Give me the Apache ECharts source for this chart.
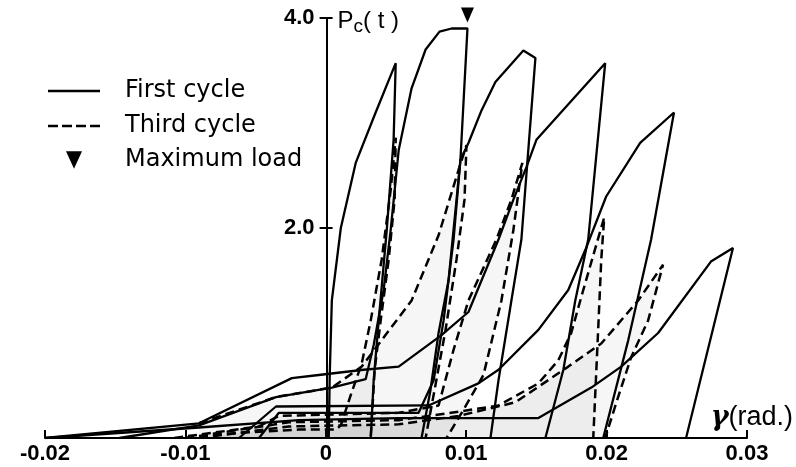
<!DOCTYPE html>
<html>
<head>
<meta charset="utf-8">
<script src="https://cdn.jsdelivr.net/npm/echarts@6/dist/echarts.min.js"></script>
<style>html,body{margin:0;padding:0;background:#fff}#c{width:796px;height:467px}</style>
</head>
<body>
<div id="c"></div>
<script>
// ---- data: [gamma (rad), Pc (t)] ----
// first cycles (solid)
var first1 = [[0.00021,0],[0.00028,0.6],[0.00043,1.31],[0.00107,2.0],[0.00213,2.62],[0.00355,3.10],[0.00498,3.57],[0.00483,2.84],[0.00434,1.98],[0.00377,1.12],[0.00341,0.55],[0.0032,0]];
var first2 = [[-0.0147,0],[-0.00903,0.12],[-0.00355,0.39],[0.00043,0.48],[0.00284,0.56],[0.00341,0.886],[0.00412,1.41],[0.00462,1.98],[0.00519,2.74],[0.00611,3.33],[0.00711,3.70],[0.0081,3.87],[0.00896,3.90],[0.01009,3.90],[0.00959,2.65],[0.00874,1.50],[0.00803,1.0],[0.00746,0.46],[0.00682,0]];
var first3 = [[-0.00476,0],[-0.00334,0.24],[0.00661,0.24],[0.00768,0.55],[0.00839,1.12],[0.0091,1.89],[0.00959,2.65],[0.01016,2.81],[0.01109,3.12],[0.01208,3.39],[0.01407,3.69],[0.01493,3.62],[0.01393,1.89],[0.01322,1.31],[0.0123,0.55],[0.01173,0]];
var first4 = [[-0.02,0],[-0.00903,0.14],[-0.00242,0.57],[-0.0005,0.60],[0.0027,0.65],[0.00519,0.68],[0.00824,0.98],[0.01016,1.2],[0.0123,1.89],[0.01336,2.27],[0.01429,2.58],[0.015,2.84],[0.0199,3.57],[0.01869,1.89],[0.01777,1.31],[0.01692,0.65],[0.01564,0]];
var first5 = [[-0.00618,0],[-0.00355,0.30],[0.00732,0.31],[0.01087,0.52],[0.0123,0.65],[0.01514,1.03],[0.01727,1.41],[0.01848,1.79],[0.01997,2.30],[0.02239,2.81],[0.0248,3.10],[0.02317,1.89],[0.02154,0.93],[0.01976,0]];
var first6 = [[-0.02,0],[-0.00903,0.10],[-0.00192,0.17],[0.00519,0.19],[0.01514,0.19],[0.01656,0.30],[0.01891,0.48],[0.02104,0.68],[0.02367,1.0],[0.02743,1.68],[0.029,1.81],[0.02566,0]];
// third cycles (dashed)
var third1 = [[-0.01002,0],[-0.00618,0.05],[-0.00192,0.08],[0.00071,0.08],[0.00107,0.12],[0.00178,0.41],[0.00256,0.71],[0.0032,1.12],[0.00398,1.7],[0.00462,2.36],[0.00498,2.86],[0.0049,2.27],[0.00448,1.7],[0.00391,1.12],[0.00348,0.65],[0.0032,0]];
var third2 = [[-0.00903,0.14],[-0.00355,0.39],[0.00043,0.48],[0.00256,0.68],[0.00611,1.31],[0.00803,1.93],[0.00945,2.55],[0.01002,2.79],[0.00988,2.27],[0.00931,1.7],[0.00853,1.03],[0.00775,0.46],[0.00711,0]];
var third3 = [[-0.0108,0],[-0.00476,0.11],[-0.00334,0.21],[0.00519,0.24],[0.00803,0.31],[0.0091,0.84],[0.01016,1.31],[0.01215,1.89],[0.01322,2.27],[0.014,2.62],[0.01336,1.98],[0.01251,1.31],[0.01123,0.6],[0.00981,0.27],[0.0086,0]];
var third4 = [[-0.01002,0],[-0.00263,0.15],[0.00519,0.17],[0.00945,0.25],[0.0123,0.31],[0.01514,0.52],[0.01656,0.74],[0.01748,1.0],[0.01819,1.34],[0.01905,1.74],[0.01983,2.1],[0.01962,1.7],[0.0194,1.03],[0.01905,0]];
var third5 = [[-0.00903,0],[-0.00263,0.11],[0.00519,0.13],[0.00945,0.21],[0.0135,0.34],[0.01727,0.68],[0.01962,0.9],[0.02225,1.31],[0.02402,1.65],[0.02296,1.12],[0.02175,0.77],[0.02082,0.39],[0.0199,0]];
var maxLoad = [[0.01009,3.895]];
var xRange = {min:-0.02, max:0.03, step:0.01};
var yRange = {min:0, max:4, step:2};

var firsts = [first1,first2,first3,first4,first5,first6];
var thirds = [third1,third2,third3,third4,third5];

var G = {left:45, right:47, top:18, bottom:29};
var W = 796, H = 467;
// place the y axis where gamma = 0
var yOff = -(W - G.left - G.right) * (0 - xRange.min) / (xRange.max - xRange.min);

var chart = echarts.init(document.getElementById('c'), null, {renderer:'canvas'});
var series = [];
thirds.forEach(function(d){
  series.push({type:'line', name:'shade', data:d, symbol:'none', silent:true, z:1,
    lineStyle:{width:0, opacity:0}, areaStyle:{color:'rgba(0,0,0,0.05)', origin:'start'}});
});
firsts.forEach(function(d){
  series.push({type:'line', name:'First cycle', data:d, symbol:'none', z:3,
    lineStyle:{color:'#000', width:2.3, type:'solid'}, itemStyle:{color:'#000'}});
});
thirds.forEach(function(d){
  series.push({type:'line', name:'Third cycle', data:d, symbol:'none', z:3,
    lineStyle:{color:'#000', width:2.5, type:[9,5]}, itemStyle:{color:'#000'}});
});
var tri = 'path://M0,0 L10,0 L5,11 Z';
series.push({type:'scatter', name:'Maximum load', data:maxLoad, symbol:tri, symbolSize:[13,15],
  symbolOffset:[0,-14], itemStyle:{color:'#000', opacity:1}, z:4});

var legendFont = {fontFamily:'DejaVu Sans', fontSize:24, color:'#000', lineHeight:28};
var solidIcon = 'path://M0,0H52V2.5H0Z';
var dashIcon = 'path://M0,0H10V2.5H0Z M14,0H24V2.5H14Z M28,0H38V2.5H28Z M42,0H52V2.5H42Z';
var tickFont = {color:'#000', fontFamily:'Liberation Sans', fontSize:22, fontWeight:'bold'};
chart.setOption({
  animation:false,
  backgroundColor:'#fff',
  grid:{left:G.left, right:G.right, top:G.top, bottom:G.bottom, containLabel:false},
  legend:[
    {data:[{name:'First cycle', icon:solidIcon}], orient:'vertical', left:48, top:77, padding:0, itemWidth:52, itemHeight:2.5,
     itemStyle:{color:'#000', borderWidth:0}, textStyle:Object.assign({padding:[0,0,0,20]}, legendFont)},
    {data:[{name:'Third cycle', icon:dashIcon}], orient:'vertical', left:48, top:112, padding:0, itemWidth:52, itemHeight:2.5,
     itemStyle:{color:'#000', borderWidth:0}, textStyle:Object.assign({padding:[0,0,0,20]}, legendFont)},
    {data:[{name:'Maximum load', icon:tri}], orient:'vertical', left:66, top:146, padding:0, itemWidth:16, itemHeight:18,
     itemStyle:{color:'#000', opacity:1}, textStyle:Object.assign({padding:[0,0,0,38]}, legendFont)}
  ],
  xAxis:{type:'value', min:xRange.min, max:xRange.max, interval:xRange.step,
    splitLine:{show:false},
    axisLine:{onZero:false, lineStyle:{color:'#000', width:2}},
    axisTick:{inside:true, length:8, lineStyle:{color:'#000', width:2}},
    axisLabel:Object.assign({margin:5,
      formatter:function(v){ return Math.abs(v)<1e-9 ? '0' : v.toFixed(2); }}, tickFont),
    name:'{g|γ}(rad.)', nameLocation:'end', nameGap:46,
    nameTextStyle:{align:'right', verticalAlign:'bottom', padding:[0,0,7,0], color:'#000',
      fontFamily:'Liberation Sans', fontSize:27,
      rich:{g:{fontFamily:'DejaVu Serif', fontStyle:'italic', fontWeight:'bold', fontSize:27, color:'#000'}}}
  },
  yAxis:[{type:'value', min:yRange.min, max:yRange.max, interval:yRange.step, position:'left', offset:yOff,
    splitLine:{show:false},
    axisLine:{onZero:false, lineStyle:{color:'#000', width:2}},
    axisTick:{length:7, lineStyle:{color:'#000', width:2}},
    axisLabel:Object.assign({margin:12,
      formatter:function(v){ return v===0 ? '' : v.toFixed(1); }}, tickFont),
    name:'P{s|c}( t )', nameLocation:'end', nameGap:-3,
    nameTextStyle:{align:'left', verticalAlign:'middle', padding:[0,0,0,11], color:'#000',
      fontFamily:'Liberation Sans', fontSize:24, lineHeight:30,
      rich:{s:{fontSize:19, fontFamily:'Liberation Sans', color:'#000', verticalAlign:'bottom', lineHeight:18}}}
  },{type:'value', min:yRange.min, max:yRange.max, interval:yRange.step, position:'left', offset:yOff,
    splitLine:{show:false},
    axisLine:{onZero:false, lineStyle:{color:'#000', width:2}},
    axisTick:{inside:true, length:6, lineStyle:{color:'#000', width:2}},
    axisLabel:{show:false}
  }],
  series:series
});
</script>
</body>
</html>
